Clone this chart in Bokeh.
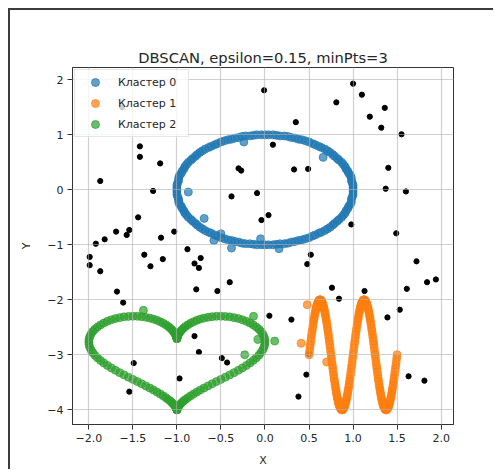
from bokeh.plotting import figure
from bokeh.models import FixedTicker
from bokeh.embed import file_html
from bokeh.resources import INLINE

title_text = "DBSCAN, epsilon=0.15, minPts=3"
cluster_names = ["Кластер 0", "Кластер 1", "Кластер 2"]
cluster_colors = ["#1f77b4", "#ff7f0e", "#2ca02c"]

x_ticks = [-2.0, -1.5, -1.0, -0.5, 0.0, 0.5, 1.0, 1.5, 2.0]
x_tick_labels = ["\u22122.0", "\u22121.5", "\u22121.0", "\u22120.5", "0.0", "0.5", "1.0", "1.5", "2.0"]
y_ticks = [-4, -3, -2, -1, 0, 1, 2]
y_tick_labels = ["\u22124", "\u22123", "\u22122", "\u22121", "0", "1", "2"]

# noise points (label -1)
noise_x = [-0.01,-1.42,-1.42,-1.19,-1.87,-1.27,-0.30,-0.27,-0.38,-0.09,-0.04,-1.44,-1.69,-1.54,-1.57,-1.82,-1.92,-1.18,-1.03,
           1.00,1.10,0.81,1.36,1.19,1.32,1.55,0.35,0.09,0.33,0.49,1.40,1.37,1.60,0.04,0.98,1.49,0.52,-1.99,-1.99,-1.87,
           -1.37,-1.30,-1.16,-0.88,-0.73,-0.80,-0.75,-1.68,-1.61,-0.78,-0.54,-0.40,-0.80,-0.75,-0.49,-0.43,-1.49,-0.97,-1.54,
           0.38,1.81,0.48,0.76,0.84,1.13,1.72,1.84,1.94,1.61,1.53,1.39,0.05,0.30,0.50,0.47,1.63,-1.62]
noise_y = [1.81,0.79,0.60,0.48,0.16,-0.02,0.39,0.35,-0.12,-0.06,-0.55,-0.50,-0.76,-0.73,-0.82,-0.90,-0.98,-0.87,-0.76,
           1.93,1.73,1.59,1.49,1.33,1.13,1.01,1.23,0.82,0.37,0.38,0.40,0.02,-0.03,-0.46,-0.63,-0.79,-1.18,-1.22,-1.37,-1.48,
           -1.18,-1.39,-1.26,-1.08,-1.24,-1.34,-1.42,-1.85,-2.05,-1.81,-1.84,-1.68,-2.66,-2.95,-3.06,-3.14,-3.15,-3.43,-3.67,
           -3.76,-3.47,-1.35,-1.78,-1.98,-1.84,-1.30,-1.68,-1.63,-1.80,-2.18,-2.32,-2.29,-2.36,-2.98,-3.36,-3.39,1.50]

# cluster 0: ring
ring_x = [1.00,1.00,1.00,0.99,0.98,0.98,0.97,0.95,0.94,0.92,0.91,0.89,0.87,0.84,0.82,0.79,0.77,0.74,0.71,0.68,0.64,0.61,0.57,0.54,0.50,0.46,0.42,0.38,0.34,0.30,0.26,0.22,0.17,0.13,0.09,0.04,0.00,
          -0.04,-0.09,-0.13,-0.17,-0.22,-0.26,-0.30,-0.34,-0.38,-0.42,-0.46,-0.50,-0.54,-0.57,-0.61,-0.64,-0.68,-0.71,-0.74,-0.77,-0.79,-0.82,-0.84,-0.87,-0.89,-0.91,-0.92,-0.94,-0.95,-0.97,-0.98,-0.98,-0.99,-1.00,-1.00,-1.00,
          -1.00,-1.00,-0.99,-0.98,-0.98,-0.97,-0.95,-0.94,-0.92,-0.91,-0.89,-0.87,-0.84,-0.82,-0.79,-0.77,-0.74,-0.71,-0.68,-0.64,-0.61,-0.57,-0.54,-0.50,-0.46,-0.42,-0.38,-0.34,-0.30,-0.26,-0.22,-0.17,-0.13,-0.09,-0.04,0.00,
          0.04,0.09,0.13,0.17,0.22,0.26,0.30,0.34,0.38,0.42,0.46,0.50,0.54,0.57,0.61,0.64,0.68,0.71,0.74,0.77,0.79,0.82,0.84,0.87,0.89,0.91,0.92,0.94,0.95,0.97,0.98,0.98,0.99,1.00,1.00]
ring_y = [0.00,0.04,0.09,0.13,0.17,0.22,0.26,0.30,0.34,0.38,0.42,0.46,0.50,0.54,0.57,0.61,0.64,0.68,0.71,0.74,0.77,0.79,0.82,0.84,0.87,0.89,0.91,0.92,0.94,0.95,0.97,0.98,0.98,0.99,1.00,1.00,1.00,
          1.00,1.00,0.99,0.98,0.98,0.97,0.95,0.94,0.92,0.91,0.89,0.87,0.84,0.82,0.79,0.77,0.74,0.71,0.68,0.64,0.61,0.57,0.54,0.50,0.46,0.42,0.38,0.34,0.30,0.26,0.22,0.17,0.13,0.09,0.04,0.00,
          -0.04,-0.09,-0.13,-0.17,-0.22,-0.26,-0.30,-0.34,-0.38,-0.42,-0.46,-0.50,-0.54,-0.57,-0.61,-0.64,-0.68,-0.71,-0.74,-0.77,-0.79,-0.82,-0.84,-0.87,-0.89,-0.91,-0.92,-0.94,-0.95,-0.97,-0.98,-0.98,-0.99,-1.00,-1.00,-1.00,
          -1.00,-1.00,-0.99,-0.98,-0.98,-0.97,-0.95,-0.94,-0.92,-0.91,-0.89,-0.87,-0.84,-0.82,-0.79,-0.77,-0.74,-0.71,-0.68,-0.64,-0.61,-0.57,-0.54,-0.50,-0.46,-0.42,-0.38,-0.34,-0.30,-0.26,-0.22,-0.17,-0.13,-0.09,-0.04]
ring_extra_x = [-0.87,-0.69,-0.24,0.66,-0.58,-0.38,-0.05,0.16,-0.50]
ring_extra_y = [-0.04,-0.52,0.87,0.59,-0.92,-1.06,-0.89,-1.07,-0.80]

# cluster 1: sine wave
wave_x = [0.500,0.505,0.510,0.515,0.520,0.525,0.530,0.535,0.540,0.545,0.550,0.555,0.560,0.565,0.570,0.575,0.580,0.585,0.590,0.595,
          0.600,0.605,0.610,0.615,0.620,0.625,0.630,0.635,0.640,0.645,0.650,0.655,0.660,0.665,0.670,0.675,0.680,0.685,0.690,0.695,
          0.700,0.705,0.710,0.715,0.720,0.725,0.730,0.735,0.740,0.745,0.750,0.755,0.760,0.765,0.770,0.775,0.780,0.785,0.790,0.795,
          0.800,0.805,0.810,0.815,0.820,0.825,0.830,0.835,0.840,0.845,0.850,0.855,0.860,0.865,0.870,0.875,0.880,0.885,0.890,0.895,
          0.900,0.905,0.910,0.915,0.920,0.925,0.930,0.935,0.940,0.945,0.950,0.955,0.960,0.965,0.970,0.975,0.980,0.985,0.990,0.995,
          1.000,1.005,1.010,1.015,1.020,1.025,1.030,1.035,1.040,1.045,1.050,1.055,1.060,1.065,1.070,1.075,1.080,1.085,1.090,1.095,
          1.100,1.105,1.110,1.115,1.120,1.125,1.130,1.135,1.140,1.145,1.150,1.155,1.160,1.165,1.170,1.175,1.180,1.185,1.190,1.195,
          1.200,1.205,1.210,1.215,1.220,1.225,1.230,1.235,1.240,1.245,1.250,1.255,1.260,1.265,1.270,1.275,1.280,1.285,1.290,1.295,
          1.300,1.305,1.310,1.315,1.320,1.325,1.330,1.335,1.340,1.345,1.350,1.355,1.360,1.365,1.370,1.375,1.380,1.385,1.390,1.395,
          1.400,1.405,1.410,1.415,1.420,1.425,1.430,1.435,1.440,1.445,1.450,1.455,1.460,1.465,1.470,1.475,1.480,1.485,1.490,1.495,
          1.500]
wave_y = [-3.00,-2.94,-2.87,-2.81,-2.75,-2.69,-2.63,-2.57,-2.52,-2.46,-2.41,-2.36,-2.32,-2.27,-2.23,-2.19,-2.16,-2.12,-2.10,-2.07,-2.05,-2.03,-2.02,-2.01,-2.00,-2.00,
          -2.00,-2.01,-2.02,-2.03,-2.05,-2.07,-2.10,-2.12,-2.16,-2.19,-2.23,-2.27,-2.32,-2.36,-2.41,-2.46,-2.52,-2.57,-2.63,-2.69,-2.75,-2.81,-2.87,-2.94,-3.00,
          -3.06,-3.13,-3.19,-3.25,-3.31,-3.37,-3.43,-3.48,-3.54,-3.59,-3.64,-3.68,-3.73,-3.77,-3.81,-3.84,-3.88,-3.90,-3.93,-3.95,-3.97,-3.98,-3.99,-4.00,-4.00,
          -4.00,-3.99,-3.98,-3.97,-3.95,-3.93,-3.90,-3.88,-3.84,-3.81,-3.77,-3.73,-3.68,-3.64,-3.59,-3.54,-3.48,-3.43,-3.37,-3.31,-3.25,-3.19,-3.13,-3.06,
          -3.00,-2.94,-2.87,-2.81,-2.75,-2.69,-2.63,-2.57,-2.52,-2.46,-2.41,-2.36,-2.32,-2.27,-2.23,-2.19,-2.16,-2.12,-2.10,-2.07,-2.05,-2.03,-2.02,-2.01,-2.00,-2.00,
          -2.00,-2.01,-2.02,-2.03,-2.05,-2.07,-2.10,-2.12,-2.16,-2.19,-2.23,-2.27,-2.32,-2.36,-2.41,-2.46,-2.52,-2.57,-2.63,-2.69,-2.75,-2.81,-2.87,-2.94,-3.00,
          -3.06,-3.13,-3.19,-3.25,-3.31,-3.37,-3.43,-3.48,-3.54,-3.59,-3.64,-3.68,-3.73,-3.77,-3.81,-3.84,-3.88,-3.90,-3.93,-3.95,-3.97,-3.98,-3.99,-4.00,-4.00,
          -4.00,-3.99,-3.98,-3.97,-3.95,-3.93,-3.90,-3.88,-3.84,-3.81,-3.77,-3.73,-3.68,-3.64,-3.59,-3.54,-3.48,-3.43,-3.37,-3.31,-3.25,-3.19,-3.13,-3.06,
          -3.00]
wave_extra_x = [0.48, 0.41, 0.70]
wave_extra_y = [-2.09, -2.79, -3.13]

# cluster 2: heart
heart_x = [-1.000,-1.000,-0.999,-0.998,-0.995,-0.990,-0.983,-0.973,-0.960,-0.944,
           -0.925,-0.902,-0.875,-0.845,-0.811,-0.774,-0.734,-0.692,-0.646,-0.599,
           -0.551,-0.501,-0.450,-0.400,-0.351,-0.302,-0.256,-0.211,-0.170,-0.133,
           -0.099,-0.069,-0.045,-0.026,-0.011,-0.003,0.000,-0.003,-0.011,-0.026,
           -0.045,-0.069,-0.099,-0.133,-0.170,-0.211,-0.256,-0.302,-0.351,-0.400,
           -0.450,-0.501,-0.551,-0.599,-0.646,-0.692,-0.734,-0.774,-0.811,-0.845,
           -0.875,-0.902,-0.925,-0.944,-0.960,-0.973,-0.983,-0.990,-0.995,-0.998,
           -0.999,-1.000,-1.000,
           -1.000,-1.001,-1.002,-1.005,-1.010,-1.017,-1.027,-1.040,-1.056,-1.075,
           -1.098,-1.125,-1.155,-1.189,-1.226,-1.266,-1.308,-1.354,-1.401,-1.449,
           -1.499,-1.550,-1.600,-1.649,-1.698,-1.744,-1.789,-1.830,-1.867,-1.901,
           -1.931,-1.955,-1.974,-1.989,-1.997,-2.000,-1.997,-1.989,-1.974,-1.955,
           -1.931,-1.901,-1.867,-1.830,-1.789,-1.744,-1.698,-1.649,-1.600,-1.550,
           -1.499,-1.449,-1.401,-1.354,-1.308,-1.266,-1.226,-1.189,-1.155,-1.125,
           -1.098,-1.075,-1.056,-1.040,-1.027,-1.017,-1.010,-1.005,-1.002,-1.001,
           -1.000]
heart_y = [-2.706,-2.704,-2.697,-2.686,-2.670,-2.651,-2.629,-2.603,-2.576,-2.546,
           -2.516,-2.486,-2.455,-2.426,-2.399,-2.373,-2.351,-2.332,-2.317,-2.306,
           -2.300,-2.299,-2.302,-2.310,-2.324,-2.341,-2.364,-2.391,-2.422,-2.456,
           -2.494,-2.534,-2.577,-2.622,-2.669,-2.716,-2.765,-2.814,-2.863,-2.912,
           -2.960,-3.008,-3.056,-3.102,-3.148,-3.193,-3.238,-3.281,-3.324,-3.365,
           -3.407,-3.447,-3.487,-3.526,-3.565,-3.603,-3.640,-3.677,-3.712,-3.747,
           -3.780,-3.812,-3.841,-3.870,-3.895,-3.919,-3.940,-3.958,-3.973,-3.984,
           -3.993,-3.998,-4.000,
           -3.998,-3.993,-3.984,-3.973,-3.958,-3.940,-3.919,-3.895,-3.870,-3.841,
           -3.812,-3.780,-3.747,-3.712,-3.677,-3.640,-3.603,-3.565,-3.526,-3.487,
           -3.447,-3.407,-3.365,-3.324,-3.281,-3.238,-3.193,-3.148,-3.102,-3.056,
           -3.008,-2.960,-2.912,-2.863,-2.814,-2.765,-2.716,-2.669,-2.622,-2.577,
           -2.534,-2.494,-2.456,-2.422,-2.391,-2.364,-2.341,-2.324,-2.310,-2.302,
           -2.299,-2.300,-2.306,-2.317,-2.332,-2.351,-2.373,-2.399,-2.426,-2.455,
           -2.486,-2.516,-2.546,-2.576,-2.603,-2.629,-2.651,-2.670,-2.686,-2.697,
           -2.704]
heart_extra_x = [-1.38, -0.13, -0.08, -0.23, 0.11]
heart_extra_y = [-2.19, -2.30, -2.72, -3.00, -2.75]


def pair(xs, ys):
    n = min(len(xs), len(ys))
    return list(xs[:n]), list(ys[:n])


FONT = "DejaVu Sans"
TXT = "#262626"

p = figure(width=485, height=461, x_range=(-2.185, 2.140), y_range=(-4.267, 2.224),
           output_backend="svg", toolbar_location=None,
           min_border_left=62, min_border_right=42, min_border_top=57, min_border_bottom=47)
p.styles = {"margin-left": "8px", "margin-top": "8px",
            "border-left": "2px solid #3c3c3c", "border-top": "2px solid #3c3c3c"}
p.background_fill_color = "white"
p.border_fill_color = "white"
p.outline_line_color = "#333333"
p.outline_line_width = 1

p.title.text = title_text
p.title.align = "center"
p.title.text_font = FONT
p.title.text_font_size = "14.7px"
p.title.text_font_style = "normal"
p.title.text_color = TXT
p.title.standoff = 4

nx, ny = pair(noise_x, noise_y)
p.scatter(nx, ny, size=5.2, color="black", line_color="black")

cx0, cy0 = pair(ring_x + ring_extra_x, ring_y + ring_extra_y)
cx1, cy1 = pair(wave_x + wave_extra_x, wave_y + wave_extra_y)
cx2, cy2 = pair(heart_x + heart_extra_x, heart_y + heart_extra_y)
for (cx, cy), name, col in zip([(cx0, cy0), (cx1, cy1), (cx2, cy2)], cluster_names, cluster_colors):
    p.scatter(cx, cy, size=8, fill_color=col, line_color=col, fill_alpha=0.7, line_alpha=0.7,
              legend_label=name)

for ax, ticks, labels in [(p.xaxis, x_ticks, x_tick_labels), (p.yaxis, y_ticks, y_tick_labels)]:
    ax.ticker = FixedTicker(ticks=ticks)
    ax.major_label_overrides = {t: l for t, l in zip(ticks, labels)}
    ax.major_tick_out = 5
    ax.major_tick_in = 0
    ax.minor_tick_out = 0
    ax.minor_tick_in = 0
    ax.major_tick_line_color = "#333333"
    ax.axis_line_color = "#333333"
    ax.major_label_text_font = FONT
    ax.major_label_text_font_size = "11px"
    ax.major_label_text_color = TXT
    ax.axis_label_text_font = FONT
    ax.axis_label_text_font_size = "11px"
    ax.axis_label_text_font_style = "normal"
    ax.axis_label_text_color = TXT
    ax.major_label_standoff = 4

p.xaxis.axis_label = "X"
p.yaxis.axis_label = "Y"
p.xaxis.axis_label_standoff = 9
p.yaxis.axis_label_standoff = 11

p.xgrid.ticker = FixedTicker(ticks=x_ticks)
p.ygrid.ticker = FixedTicker(ticks=y_ticks)
for g in (p.xgrid, p.ygrid):
    g.grid_line_color = "#b0b0b0"
    g.grid_line_alpha = 0.6
    g.grid_line_width = 1.2
    g.level = "guide"

lg = p.legend[0]
lg.location = "top_left"
lg.margin = 2
lg.padding = 2
lg.spacing = 1
lg.glyph_width = 36
lg.glyph_height = 20
lg.label_height = 20
lg.label_width = 68
lg.label_standoff = 5
lg.label_text_font = FONT
lg.label_text_font_size = "11px"
lg.label_text_color = TXT
lg.background_fill_alpha = 0.8
lg.border_line_color = "#cccccc"
lg.border_line_width = 1

open("out.html", "w").write(file_html(p, INLINE))
